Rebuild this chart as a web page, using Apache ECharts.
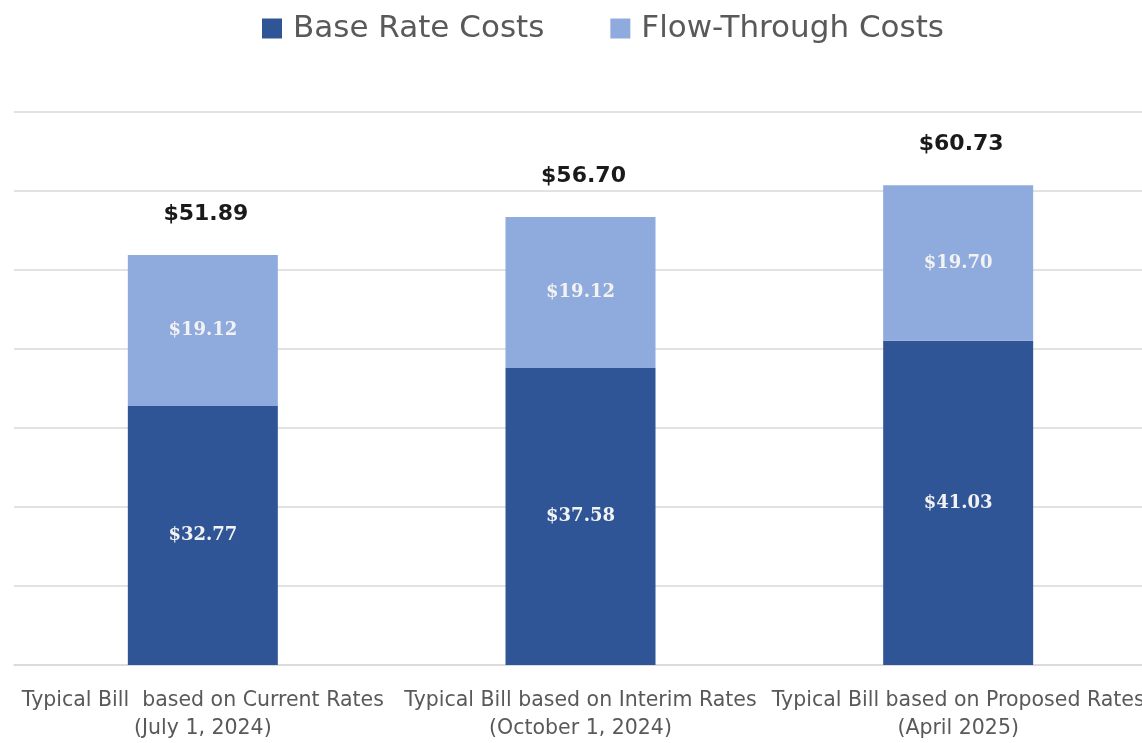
<!DOCTYPE html>
<html>
<head>
<meta charset="utf-8">
<script src="https://cdn.jsdelivr.net/npm/echarts@6/dist/echarts.min.js"></script>
<style>
  html, body { margin: 0; padding: 0; background: #fff; overflow: hidden; }
  /* slightly wider than the window: the plot in the original runs off the right edge */
  #chart { width: 1150px; height: 743px; }
</style>
</head>
<body>
<div id="chart"></div>
<script>
var categories = [
  "Typical Bill  based on Current Rates\n(July 1, 2024)",
  "Typical Bill based on Interim Rates\n(October 1, 2024)",
  "Typical Bill based on Proposed Rates\n(April 2025)"
];
var baseRate = [32.77, 37.58, 41.03];
var flowThrough = [19.12, 19.12, 19.70];
var totals = [51.89, 56.70, 60.73];
var yTicks = [0, 10, 20, 30, 40, 50, 60, 70];

var chartDom = document.getElementById('chart');
var myChart = echarts.init(chartDom);
var font = '"DejaVu Sans", sans-serif';
var serif = '"DejaVu Serif", serif';

function money(v) { return '$' + v.toFixed(2); }

var option = {
  animation: false,
  textStyle: { fontFamily: font },
  legend: {
    data: ['Base Rate Costs', 'Flow-Through Costs'],
    left: 257,
    top: 8,
    itemWidth: 20,
    itemHeight: 20,
    itemGap: 66,
    icon: 'rect',
    textStyle: { fontSize: 31, color: '#595959', fontFamily: font, padding: [0, 0, 0, 6] }
  },
  grid: {
    left: 14,
    right: 3,
    top: 112,
    bottom: 78
  },
  xAxis: {
    type: 'category',
    data: categories,
    axisTick: { show: false },
    axisLine: { show: true, lineStyle: { color: '#d9d9d9', width: 1.5 } },
    axisLabel: {
      color: '#595959',
      fontSize: 20.5,
      lineHeight: 28,
      margin: 22,
      interval: 0,
      fontFamily: font
    }
  },
  yAxis: {
    type: 'value',
    min: yTicks[0],
    max: yTicks[yTicks.length - 1],
    interval: 10,
    axisLabel: { show: false },
    axisLine: { show: false },
    axisTick: { show: false },
    splitLine: { lineStyle: { color: '#d9d9d9', width: 1.5 } }
  },
  series: [
    {
      name: 'Base Rate Costs',
      type: 'bar',
      stack: 'bill',
      barWidth: 150,
      data: baseRate,
      itemStyle: { color: '#2F5597' },
      label: {
        show: true,
        position: 'inside',
        color: '#f2f2f2',
        fontSize: 18,
        fontWeight: 'bold',
        fontFamily: serif,
        formatter: function (p) { return money(p.value); }
      }
    },
    {
      name: 'Flow-Through Costs',
      type: 'bar',
      stack: 'bill',
      barWidth: 150,
      data: flowThrough,
      itemStyle: { color: '#8FAADC' },
      label: {
        show: true,
        position: 'inside',
        color: '#f2f2f2',
        fontSize: 18,
        fontWeight: 'bold',
        fontFamily: serif,
        formatter: function (p) { return money(p.value); }
      }
    },
    {
      // invisible zero-height bar on top of the stack, carries the total label
      name: 'Total',
      type: 'bar',
      stack: 'bill',
      barWidth: 150,
      data: totals.map(function () { return 0; }),
      itemStyle: { color: 'transparent' },
      label: {
        show: true,
        position: 'top',
        distance: 30,
        offset: [3, 0],
        color: '#1a1a1a',
        fontSize: 22,
        fontWeight: 'bold',
        fontFamily: font,
        formatter: function (p) { return money(totals[p.dataIndex]); }
      }
    }
  ]
};

option && myChart.setOption(option);
window.addEventListener('resize', function () {
  myChart.resize();
});
</script>
</body>
</html>
